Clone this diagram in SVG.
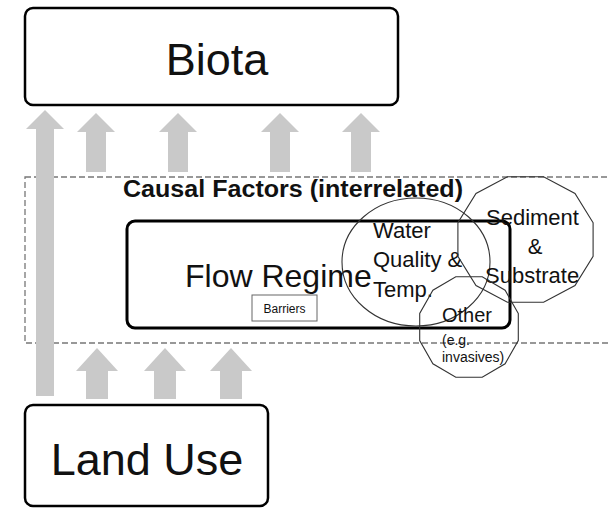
<svg xmlns="http://www.w3.org/2000/svg" width="608" height="508" viewBox="0 0 608 508">
  <style>
    .box { fill: #fff; stroke: #000; stroke-width: 2.5; }
    .flow { fill: #fff; stroke: #000; stroke-width: 3; }
    .frame { fill: none; stroke: #777; stroke-width: 1.3; stroke-dasharray: 6 3; }
    .arrow { fill: #c9c9c9; stroke: none; }
    .shape { fill: none; stroke: #333; stroke-width: 1.1; }
    .tag { fill: #fff; stroke: #666; stroke-width: 1; }
    text { font-family: "Liberation Sans", Arial, sans-serif; fill: #111; }
    .big { font-size: 45px; text-anchor: middle; }
    .title { font-size: 23px; font-weight: bold; }
    .mid { font-size: 32px; }
    .lbl { font-size: 22px; }
    .sm { font-size: 20px; }
    .xs { font-size: 14px; }
    .tiny { font-size: 12px; text-anchor: middle; }
  </style>

  <!-- dashed frame around the causal factors -->
  <rect id="causal-frame" class="frame" x="25" y="177" width="600" height="166"/>

  <!-- connectors: block arrows pointing upward -->
  <g id="connectors">
    <path class="arrow" d="M45,110 L64,129 L54,129 L54,396 L36,396 L36,129 L26,129 Z"/>
    <path class="arrow" d="M96,113 L115,132 L106,132 L106,172 L86,172 L86,132 L77,132 Z"/>
    <path class="arrow" d="M178,113 L197,132 L188,132 L188,172 L168,172 L168,132 L159,132 Z"/>
    <path class="arrow" d="M280,113 L299,132 L290,132 L290,172 L270,172 L270,132 L261,132 Z"/>
    <path class="arrow" d="M361,113 L380,132 L371,132 L371,172 L351,172 L351,132 L342,132 Z"/>
    <path class="arrow" d="M97,348 L118,371 L108,371 L108,399 L86,399 L86,371 L76,371 Z"/>
    <path class="arrow" d="M165,348 L186,371 L176,371 L176,399 L154,399 L154,371 L144,371 Z"/>
    <path class="arrow" d="M231,348 L252,371 L242,371 L242,399 L220,399 L220,371 L210,371 Z"/>
  </g>

  <g id="biota">
    <rect class="box" x="25" y="8" width="373" height="97" rx="8"/>
    <text class="big" x="217" y="75">Biota</text>
  </g>

  <g id="land-use">
    <rect class="box" x="25" y="405" width="243" height="101" rx="8"/>
    <text class="big" x="147" y="475" font-size="44">Land Use</text>
  </g>

  <g id="causal-title">
    <text class="title" x="123" y="197" textLength="340" lengthAdjust="spacingAndGlyphs">Causal Factors (interrelated)</text>
  </g>

  <g id="flow-regime">
    <rect class="flow" x="127" y="221" width="383" height="107" rx="8"/>
    <text class="mid" x="185" y="287">Flow Regime</text>
  </g>

  <g id="barriers">
    <rect class="tag" x="252" y="295" width="65" height="26"/>
    <text class="tiny" x="284.5" y="313">Barriers</text>
  </g>

  <g id="water-quality">
    <ellipse class="shape" cx="416" cy="262" rx="74" ry="64"/>
    <text class="lbl" x="373" y="238">Water</text>
    <text class="lbl" x="373" y="267">Quality &amp;</text>
    <text class="lbl" x="373" y="297">Temp.</text>
  </g>

  <g id="sediment">
    <polygon class="shape" points="593.1,222.7 575,193.5 543.6,176.7 507.4,176.7 476,193.5 457.9,222.7 457.9,256.3 476,285.5 507.4,302.3 543.6,302.3 575,285.5 593.1,256.3"/>
    <text class="lbl" x="486" y="225">Sediment</text>
    <text class="lbl" x="535" y="254" text-anchor="middle">&amp;</text>
    <text class="lbl" x="485" y="283">Substrate</text>
  </g>

  <g id="other">
    <polygon class="shape" points="518.3,313.5 505.1,290.2 482.2,276.8 455.8,276.8 432.9,290.2 419.7,313.5 419.7,340.5 432.9,363.8 455.8,377.2 482.2,377.2 505.1,363.8 518.3,340.5"/>
    <text class="sm" x="442" y="322">Other</text>
    <text class="xs" x="442" y="345">(e.g.</text>
    <text class="xs" x="442" y="362">invasives)</text>
  </g>
</svg>
